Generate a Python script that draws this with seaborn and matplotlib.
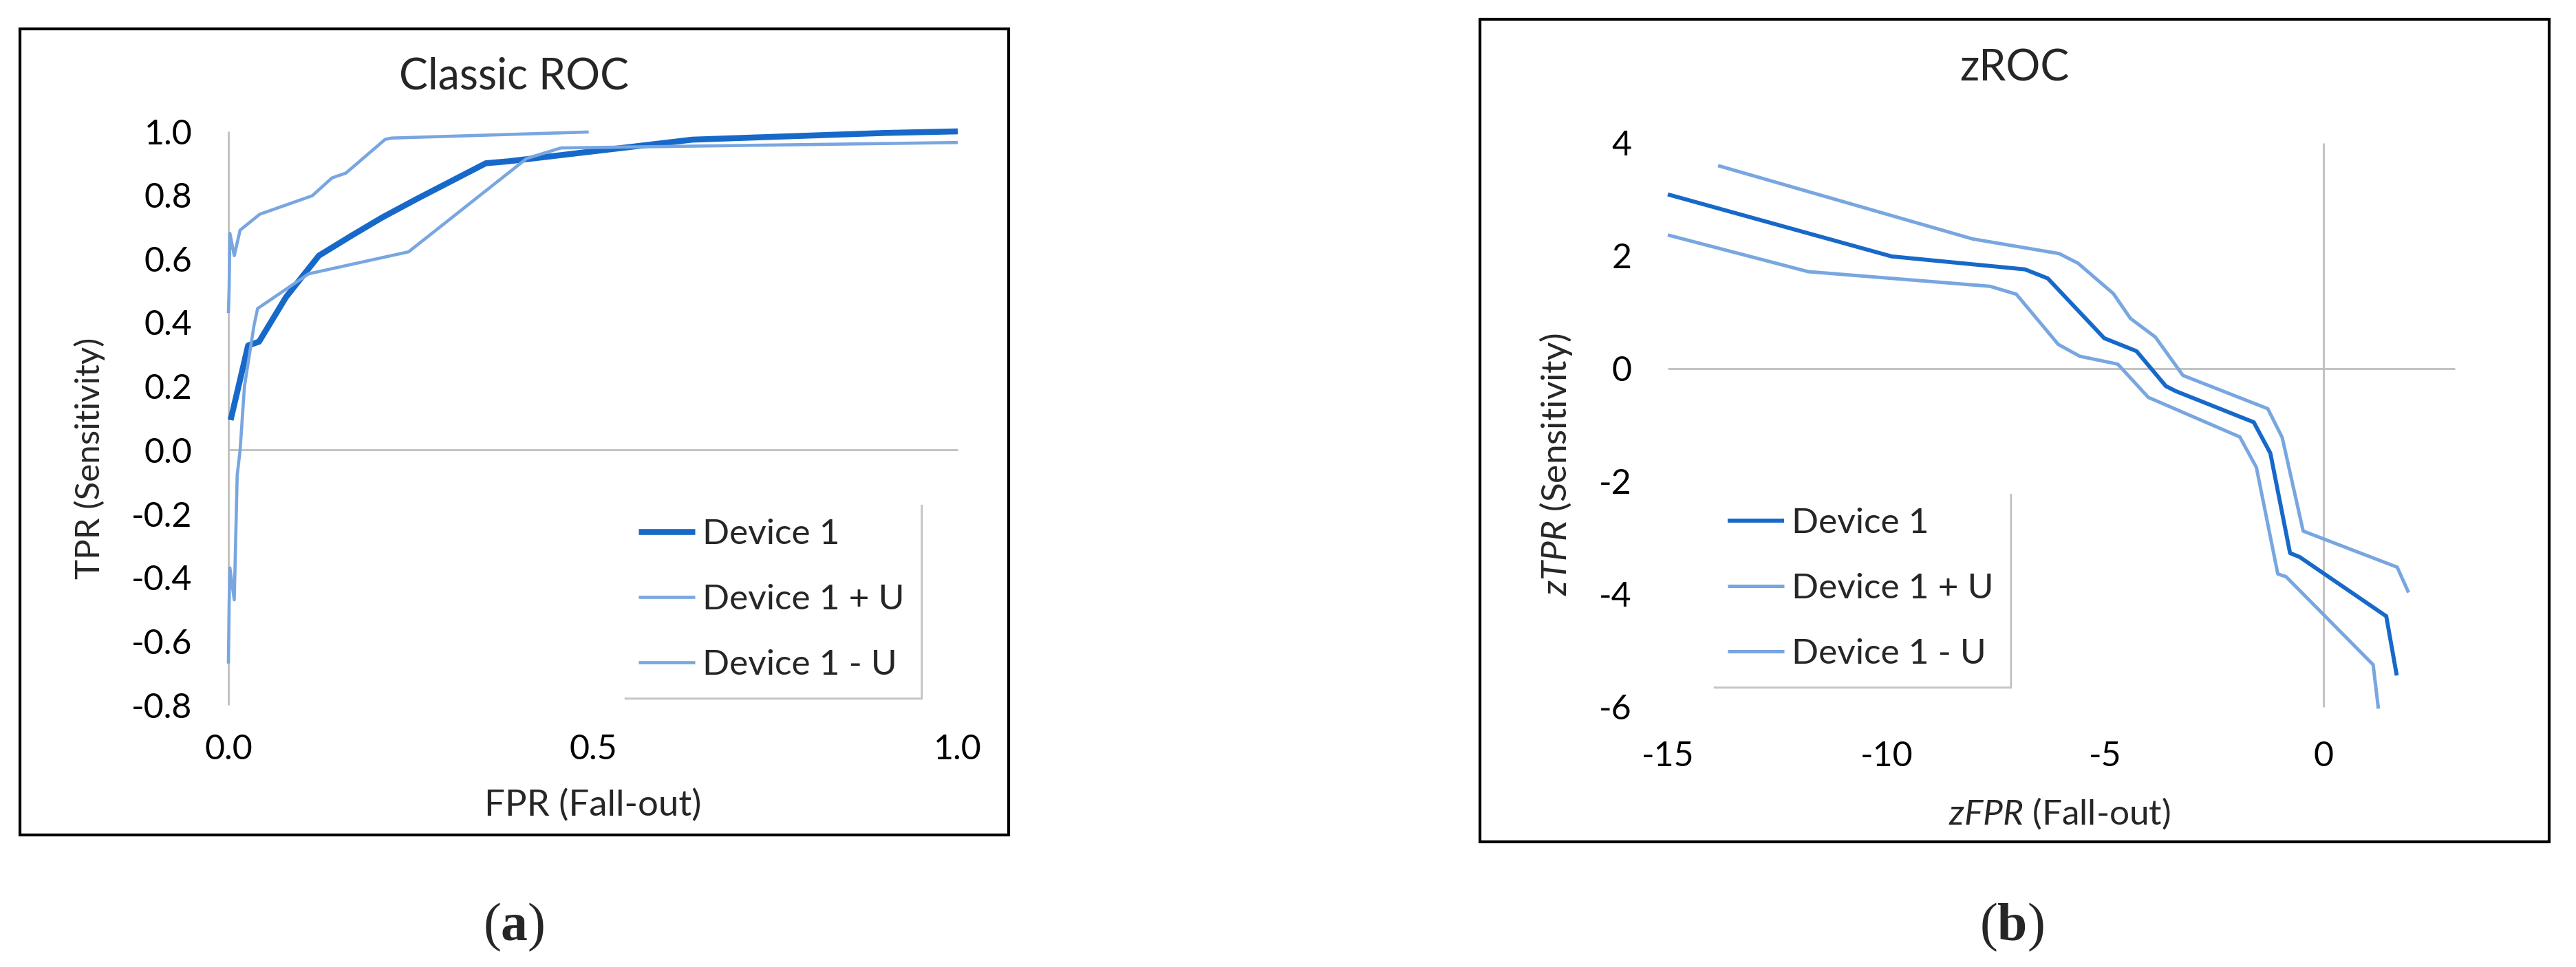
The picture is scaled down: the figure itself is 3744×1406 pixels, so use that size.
import pandas as pd
import matplotlib.pyplot as plt
import seaborn as sns
from matplotlib.patches import Rectangle


# Classic ROC (panel a)
roc_fpr_d1 = [0.003, 0.027, 0.042, 0.079, 0.124, 0.169, 0.211, 0.26, 0.353, 0.384, 0.636, 0.9, 1.0]
roc_tpr_d1 = [0.094, 0.328, 0.34, 0.48, 0.61, 0.673, 0.73, 0.79, 0.90, 0.906, 0.974, 0.995, 1.0]

roc_fpr_plus = [0.0, 0.001, 0.002, 0.008, 0.016, 0.043, 0.115, 0.142, 0.161, 0.215, 0.224, 0.494]
roc_tpr_plus = [0.43, 0.51, 0.68, 0.61, 0.69, 0.74, 0.798, 0.854, 0.869, 0.975, 0.979, 0.998]

roc_fpr_minus = [0.0, 0.001, 0.002, 0.008, 0.012, 0.016, 0.022, 0.035, 0.04, 0.11, 0.247, 0.409, 0.456, 1.0]
roc_tpr_minus = [-0.67, -0.48, -0.37, -0.47, -0.08, 0.0, 0.2, 0.39, 0.444, 0.553, 0.622, 0.915, 0.948, 0.965]

# zROC (panel b)
z_fpr_d1 = [-15, -9.88, -6.83, -6.31, -5.02, -4.28, -3.61, -3.38, -1.6, -1.22, -0.77, -0.55, 1.43, 1.67]
z_tpr_d1 = [3.09, 1.99, 1.76, 1.6, 0.54, 0.31, -0.31, -0.4, -0.95, -1.5, -3.27, -3.34, -4.39, -5.44]

z_fpr_plus = [-13.85, -8.03, -6.05, -5.62, -4.81, -4.42, -3.85, -3.22, -1.28, -0.95, -0.47, 1.68, 1.94]
z_tpr_plus = [3.6, 2.3, 2.04, 1.87, 1.33, 0.89, 0.56, -0.12, -0.71, -1.22, -2.88, -3.52, -3.97]

z_fpr_minus = [-15, -11.79, -7.63, -7.03, -6.07, -5.58, -4.71, -4.01, -1.92, -1.54, -1.05, -0.86, 1.13, 1.25]
z_tpr_minus = [2.37, 1.72, 1.46, 1.32, 0.43, 0.22, 0.08, -0.51, -1.21, -1.75, -3.64, -3.69, -5.25, -6.03]

series_names = ['Device 1', 'Device 1 + U', 'Device 1 - U']
roc_yticks = [-0.8, -0.6, -0.4, -0.2, 0.0, 0.2, 0.4, 0.6, 0.8, 1.0]
roc_xticks = [0.0, 0.5, 1.0]
z_yticks = [-6, -4, -2, 0, 2, 4]
z_xticks = [-15, -10, -5, 0]

dark_blue = '#1769c9'
light_blue = '#78a6e0'
grid_grey = '#bfbfbf'

sns.set_theme(style='white')
plt.rcParams['font.family'] = ['Lato', 'DejaVu Sans']
plt.rcParams['axes.unicode_minus'] = False
plt.rcParams['mathtext.fontset'] = 'custom'
plt.rcParams['mathtext.rm'] = 'Liberation Serif'
plt.rcParams['mathtext.bf'] = 'Liberation Serif:bold'
plt.rcParams['mathtext.it'] = 'Lato:italic'

W, H = 3744, 1406
fig = plt.figure(figsize=(W / 100, H / 100), dpi=100)
fig.patch.set_facecolor('white')

tick_fs = 36
label_fs = 37
legend_fs = 37
title_fs = 45

# frames round each chart
fig.add_artist(Rectangle((29 / W, 1 - 1214 / H), 1437 / W, 1172 / H, transform=fig.transFigure,
                         fill=False, ec='black', lw=3))
fig.add_artist(Rectangle((2151 / W, 1 - 1224 / H), 1554 / W, 1196 / H, transform=fig.transFigure,
                         fill=False, ec='black', lw=3))

ax1 = fig.add_axes([332 / W, 1 - 1025 / H, 1060 / W, 834 / H])
ax2 = fig.add_axes([2424 / W, 1 - 1028 / H, 1144 / W, 820 / H])

# --- panel a ---
ax1.axhline(0, color=grid_grey, lw=2, zorder=1)
ax1.axvline(0, color=grid_grey, lw=2, zorder=1, clip_on=False)
sns.lineplot(x=roc_fpr_d1, y=roc_tpr_d1, sort=False, estimator=None, color=dark_blue, lw=6.2,
             label=series_names[0], ax=ax1)
sns.lineplot(x=roc_fpr_plus, y=roc_tpr_plus, sort=False, estimator=None, color=light_blue, lw=3.3,
             label=series_names[1], ax=ax1)
sns.lineplot(x=roc_fpr_minus, y=roc_tpr_minus, sort=False, estimator=None, color=light_blue, lw=3.3,
             label=series_names[2], ax=ax1)
ax1.set_xlim(0, 1)
ax1.set_ylim(-0.8, 1.0)
ax1.set_xticks(roc_xticks)
ax1.set_xticklabels([f'{v:.1f}' for v in roc_xticks])
ax1.set_yticks(roc_yticks)
ax1.set_yticklabels([f'{v:.1f}' for v in roc_yticks])
ax1.set_xlabel('FPR (Fall-out)', fontsize=38)
ax1.set_ylabel('TPR (Sensitivity)', fontsize=35.5)
ax1.xaxis.set_label_coords(0.5, -0.175)
ax1.yaxis.set_label_coords(-0.19, 0.43)

# --- panel b ---
ax2.axhline(0, color=grid_grey, lw=2, zorder=1)
ax2.axvline(0, color=grid_grey, lw=2, zorder=1)
sns.lineplot(x=z_fpr_d1, y=z_tpr_d1, sort=False, estimator=None, color=dark_blue, lw=4.2,
             label=series_names[0], ax=ax2)
sns.lineplot(x=z_fpr_plus, y=z_tpr_plus, sort=False, estimator=None, color=light_blue, lw=3.6,
             label=series_names[1], ax=ax2)
sns.lineplot(x=z_fpr_minus, y=z_tpr_minus, sort=False, estimator=None, color=light_blue, lw=3.6,
             label=series_names[2], ax=ax2)
ax2.set_xlim(-15, 3)
ax2.set_ylim(-6, 4)
ax2.set_xticks(z_xticks)
ax2.set_xticklabels([str(v) for v in z_xticks])
ax2.set_yticks(z_yticks)
ax2.set_yticklabels([str(v) for v in z_yticks])
ax2.set_xlabel(r'$\mathit{zFPR}$ (Fall-out)', fontsize=label_fs)
ax2.set_ylabel(r'$\mathit{zTPR}$ (Sensitivity)', fontsize=label_fs)
ax2.xaxis.set_label_coords(0.498, -0.188)
ax2.yaxis.set_label_coords(-0.142, 0.43)

for ax in (ax1, ax2):
    for s in ax.spines.values():
        s.set_visible(False)
    ax.set_facecolor('none')
    ax.tick_params(length=0, labelsize=tick_fs, labelcolor='black')
    ax.tick_params(axis='y', pad=38)
    ax.xaxis.label.set_va('center')
    ax.yaxis.label.set_va('center')
    for line in ax.lines:
        line.set_clip_on(False)
        line.set_solid_capstyle('butt')
ax1.tick_params(axis='x', pad=30)
ax2.tick_params(axis='x', pad=35)

leg_kw = dict(loc='upper left', fontsize=legend_fs, frameon=True, fancybox=False, framealpha=1,
              edgecolor='white', facecolor='white', handlelength=1.6, handletextpad=0.2,
              borderpad=0.45, labelspacing=0.95, shadow={'color': '0.6', 'alpha': 0.5},
              bbox_transform=fig.transFigure, borderaxespad=0)
ax1.legend(bbox_to_anchor=(905 / W, 1 - 731 / H), **leg_kw)
ax2.legend(bbox_to_anchor=(2488 / W, 1 - 715 / H), **leg_kw)

# titles sit centred in each frame
fig.text(747 / W, 1 - 112 / H, 'Classic ROC', fontsize=title_fs, ha='center', va='center')
fig.text(2928 / W, 1 - 100 / H, 'zROC', fontsize=title_fs, ha='center', va='center')

# captions
fig.text(747 / W, 1 - 1348 / H, r'$\mathrm{(}\mathbf{a}\mathrm{)}$', fontsize=56, ha='center', va='center')
fig.text(2924 / W, 1 - 1348 / H, r'$\mathrm{(}\mathbf{b}\mathrm{)}$', fontsize=56, ha='center', va='center')

fig.savefig('out.png', dpi=100)
